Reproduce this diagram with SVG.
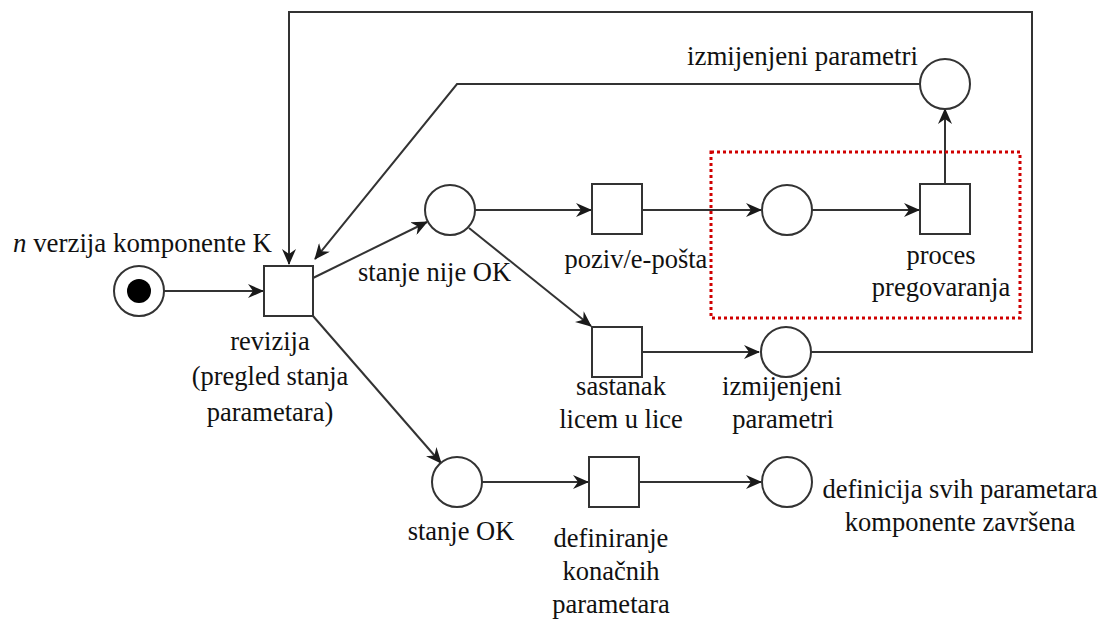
<svg xmlns="http://www.w3.org/2000/svg" width="1106" height="623" viewBox="0 0 1106 623">
<style>
.pl{fill:#fff;stroke:#333;stroke-width:2}
.tr{fill:#fff;stroke:#333;stroke-width:2}
.ln{fill:none;stroke:#333;stroke-width:2;marker-end:url(#arr)}
.t{font-family:"Liberation Serif","Times New Roman",serif;font-size:26.5px;fill:#111}
.m{text-anchor:middle}
</style>
<defs>
<marker id="arr" viewBox="0 0 16 14" markerWidth="16" markerHeight="14" refX="15" refY="7" orient="auto" markerUnits="userSpaceOnUse">
<path d="M0,0 L16,7 L0,14 L5,7 Z" fill="#1a1a1a"/>
</marker>
</defs>
<rect width="1106" height="623" fill="#fff"/>
<g id="connectors">
<line class="ln" x1="164" y1="291" x2="263" y2="291"/>
<line class="ln" x1="313" y1="278" x2="427" y2="222"/>
<line class="ln" x1="475" y1="210" x2="591" y2="210"/>
<line class="ln" x1="642" y1="210" x2="761" y2="210"/>
<line class="ln" x1="812" y1="210" x2="919" y2="210"/>
<line class="ln" x1="945" y1="184" x2="945" y2="109"/>
<polyline class="ln" points="920,84 457,84 315,259"/>
<line class="ln" x1="469" y1="228" x2="591" y2="326"/>
<line class="ln" x1="642" y1="352" x2="759" y2="352"/>
<polyline class="ln" points="811,352 1032,352 1032,12 289,12 289,264"/>
<line class="ln" x1="313" y1="316" x2="441" y2="463"/>
<line class="ln" x1="482" y1="482" x2="588" y2="482"/>
<line class="ln" x1="639" y1="482" x2="761" y2="482"/>
</g>
<g id="start">
<circle class="pl" cx="139" cy="291" r="25"/>
<circle cx="139" cy="291" r="12" fill="#000"/>
<text class="t" x="13" y="252" textLength="259" lengthAdjust="spacingAndGlyphs"><tspan font-style="italic">n</tspan> verzija komponente K</text>
</g>
<g id="revizija">
<rect class="tr" x="264" y="266" width="49" height="50"/>
<text class="t m" x="270" y="350">revizija</text>
<text class="t m" x="270" y="385">(pregled stanja</text>
<text class="t m" x="270" y="421">parametara)</text>
</g>
<g id="stanje-nije-ok">
<circle class="pl" cx="450" cy="210" r="25"/>
<text class="t" x="358" y="281">stanje nije OK</text>
</g>
<g id="poziv">
<rect class="tr" x="592" y="184" width="50" height="50"/>
<text class="t m" x="636" y="268">poziv/e-pošta</text>
</g>
<g id="pregovaranje-place">
<circle class="pl" cx="787" cy="210" r="25"/>
</g>
<g id="proces">
<rect class="tr" x="920" y="184" width="50" height="50"/>
<text class="t m" x="941" y="264">proces</text>
<text class="t m" x="941" y="296">pregovaranja</text>
</g>
<g id="izmijenjeni-top">
<circle class="pl" cx="945" cy="84" r="25"/>
<text class="t" x="687" y="65" textLength="231" lengthAdjust="spacingAndGlyphs">izmijenjeni parametri</text>
</g>
<g id="sastanak">
<rect class="tr" x="592" y="327" width="50" height="50"/>
<text class="t m" x="621" y="395">sastanak</text>
<text class="t m" x="621" y="428">licem u lice</text>
</g>
<g id="izmijenjeni-low">
<circle class="pl" cx="786" cy="352" r="25"/>
<text class="t" x="722" y="395" textLength="120" lengthAdjust="spacingAndGlyphs">izmijenjeni</text>
<text class="t m" x="783" y="428">parametri</text>
</g>
<g id="stanje-ok">
<circle class="pl" cx="457" cy="482" r="25"/>
<text class="t m" x="461" y="540">stanje OK</text>
</g>
<g id="definiranje">
<rect class="tr" x="589" y="457" width="50" height="50"/>
<text class="t m" x="611" y="547">definiranje</text>
<text class="t m" x="611" y="580">konačnih</text>
<text class="t m" x="611" y="613">parametara</text>
</g>
<g id="definicija">
<circle class="pl" cx="787" cy="482" r="25"/>
<text class="t m" x="960" y="498">definicija svih parametara</text>
<text class="t m" x="960" y="531">komponente završena</text>
</g>
<g id="highlight">
<rect x="711" y="152" width="309" height="166" fill="none" stroke="#d00000" stroke-width="3" stroke-dasharray="3 3"/>
</g>
</svg>
